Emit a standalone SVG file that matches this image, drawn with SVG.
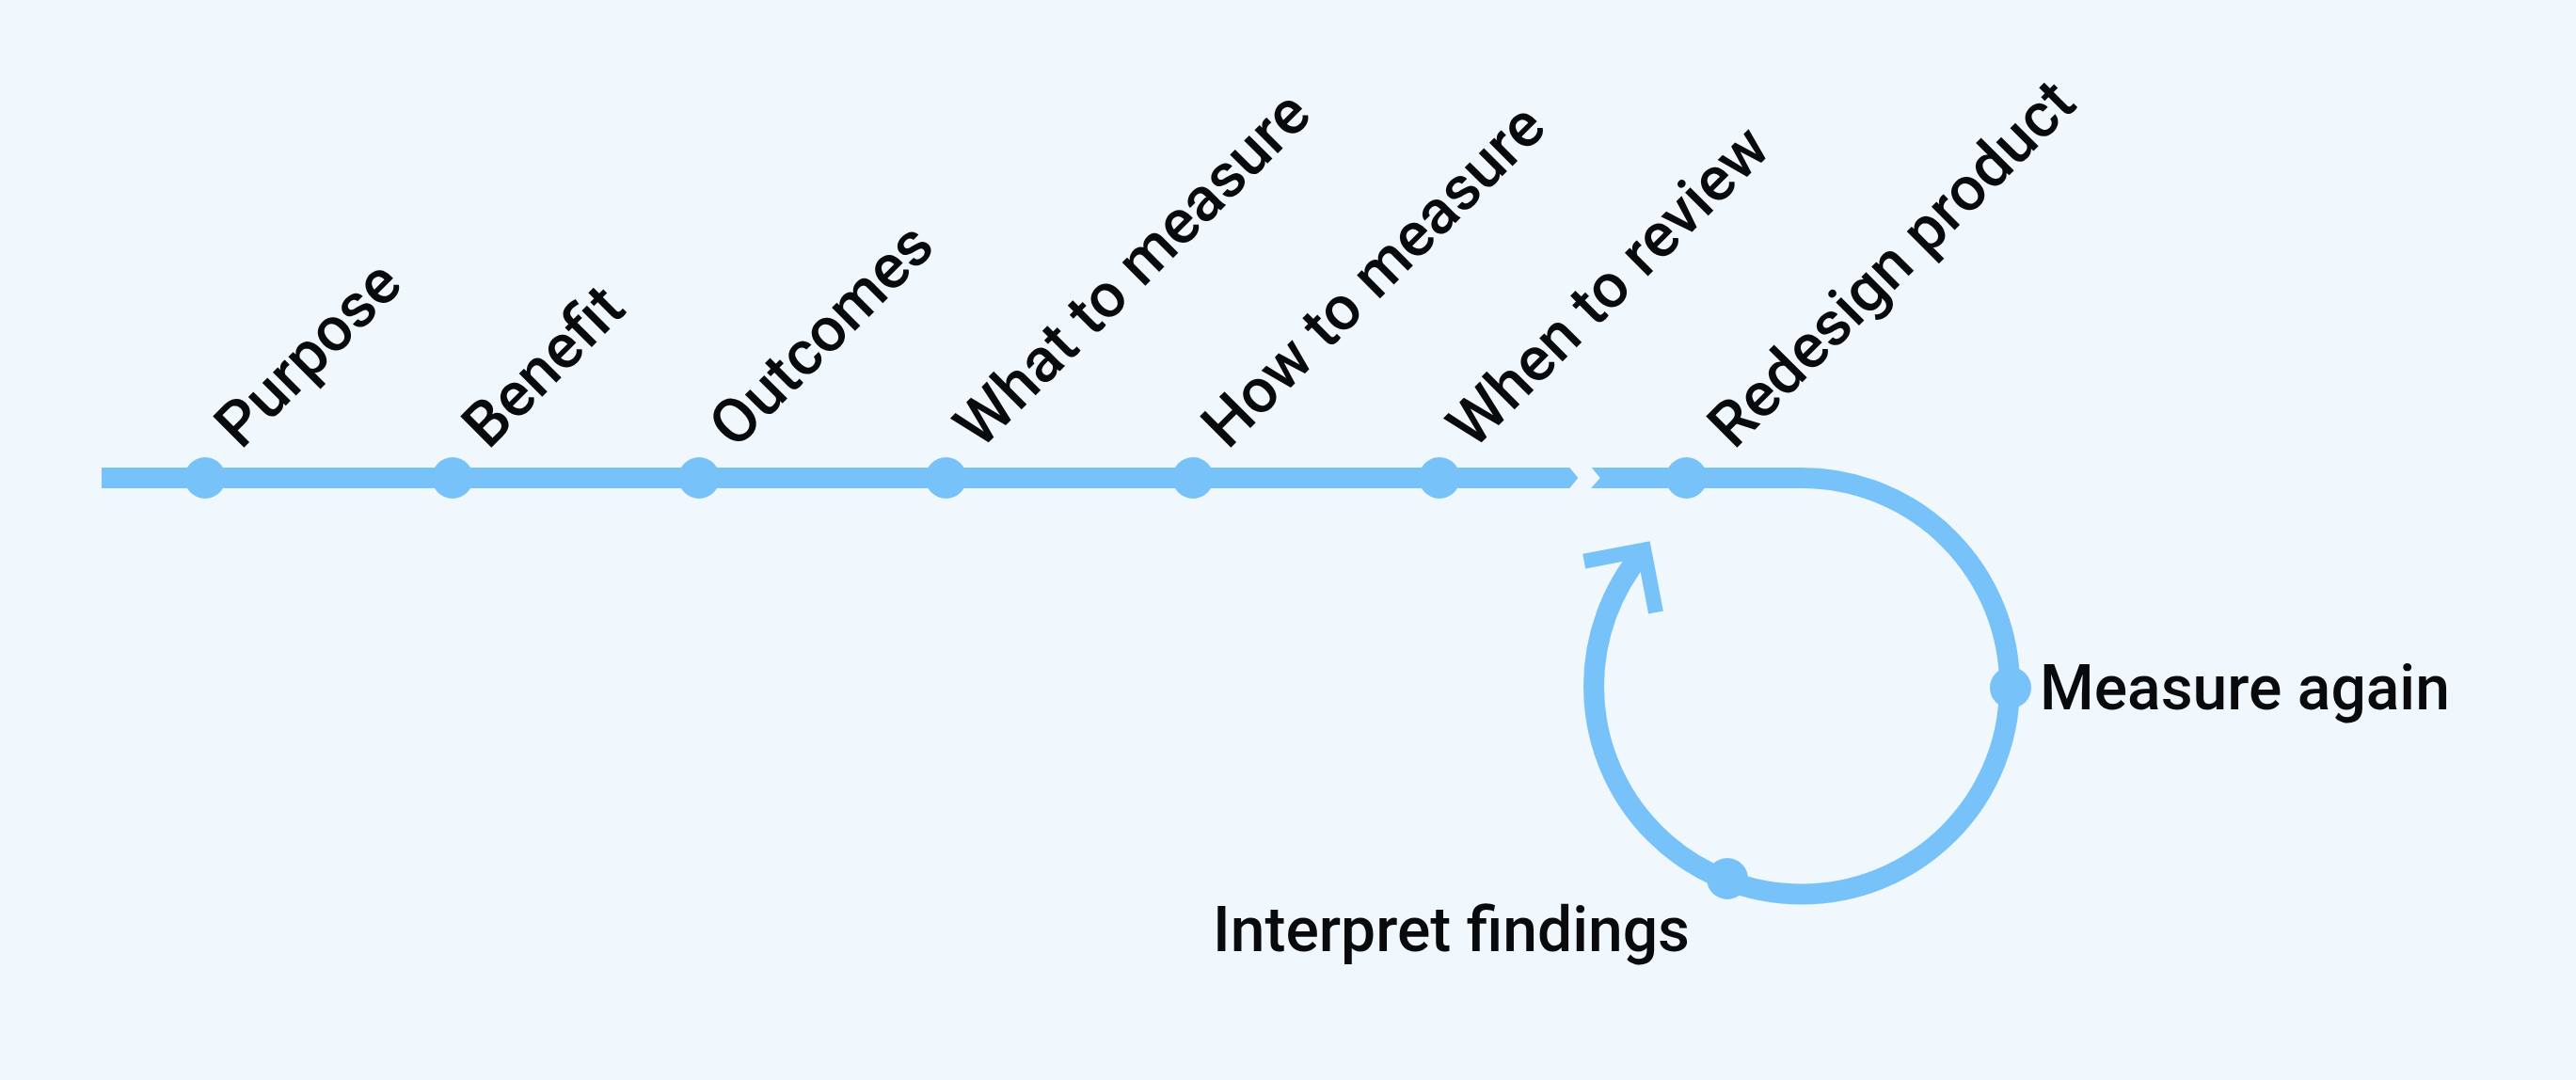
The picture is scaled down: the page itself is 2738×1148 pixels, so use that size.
<svg xmlns="http://www.w3.org/2000/svg" width="2738" height="1148" viewBox="0 0 2738 1148">
  <style>
    .lbl { font-family: Roboto, "Liberation Sans", sans-serif; font-size: 66px; font-weight: 500; fill: #080a0c; }
    .dot { fill: #78c2fa; }
    .track { fill: none; stroke: #78c2fa; stroke-width: 22; stroke-linecap: butt; stroke-linejoin: round; }
    .head { fill: none; stroke: #78c2fa; stroke-width: 16; stroke-linecap: butt; stroke-linejoin: miter; }
  </style>
  <rect x="0" y="0" width="2738" height="1148" fill="#f0f8fe"/>
  <g id="connectors">
    <path class="track" d="M108,508 H1915 A221,221 0 0 1 2136,729.5 A221,221 0 0 1 1915,950.5 A221,221 0 0 1 1694,729.5 A221,221 0 0 1 1745.7,587.4"/>
    <polygon points="1666.7,495 1677.3,508 1666.7,521 1689.3,521 1700.7,508 1690,495" fill="#f0f8fe"/>
    <polyline class="head" points="1683.7,596.7 1747.3,584.5 1760,651"/>
  </g>
  <g id="node-purpose">
    <circle class="dot" cx="218" cy="508" r="22"/>
    <text class="lbl" x="256" y="479" transform="rotate(-45 256 479)">Purpose</text>
  </g>
  <g id="node-benefit">
    <circle class="dot" cx="481" cy="508" r="22"/>
    <text class="lbl" x="519" y="479" transform="rotate(-45 519 479)">Benefit</text>
  </g>
  <g id="node-outcomes">
    <circle class="dot" cx="743" cy="508" r="22"/>
    <text class="lbl" x="781.5" y="479" transform="rotate(-45 781.5 479)">Outcomes</text>
  </g>
  <g id="node-what">
    <circle class="dot" cx="1005.5" cy="508" r="22"/>
    <text class="lbl" x="1042" y="479" transform="rotate(-45 1042 479)">What to measure</text>
  </g>
  <g id="node-how">
    <circle class="dot" cx="1268" cy="508" r="22"/>
    <text class="lbl" x="1305" y="479" transform="rotate(-45 1305 479)">How to measure</text>
  </g>
  <g id="node-when">
    <circle class="dot" cx="1530" cy="508" r="22"/>
    <text class="lbl" x="1566" y="479" transform="rotate(-45 1566 479)">When to review</text>
  </g>
  <g id="node-redesign">
    <circle class="dot" cx="1792.5" cy="508" r="22"/>
    <text class="lbl" x="1843" y="479" transform="rotate(-45 1843 479)">Redesign product</text>
  </g>
  <g id="node-measure-again">
    <circle class="dot" cx="2137" cy="731" r="22"/>
    <text class="lbl" x="2168" y="754">Measure again</text>
  </g>
  <g id="node-interpret">
    <circle class="dot" cx="1836" cy="934" r="22"/>
    <text class="lbl" x="1289" y="1011">Interpret findings</text>
  </g>
</svg>
